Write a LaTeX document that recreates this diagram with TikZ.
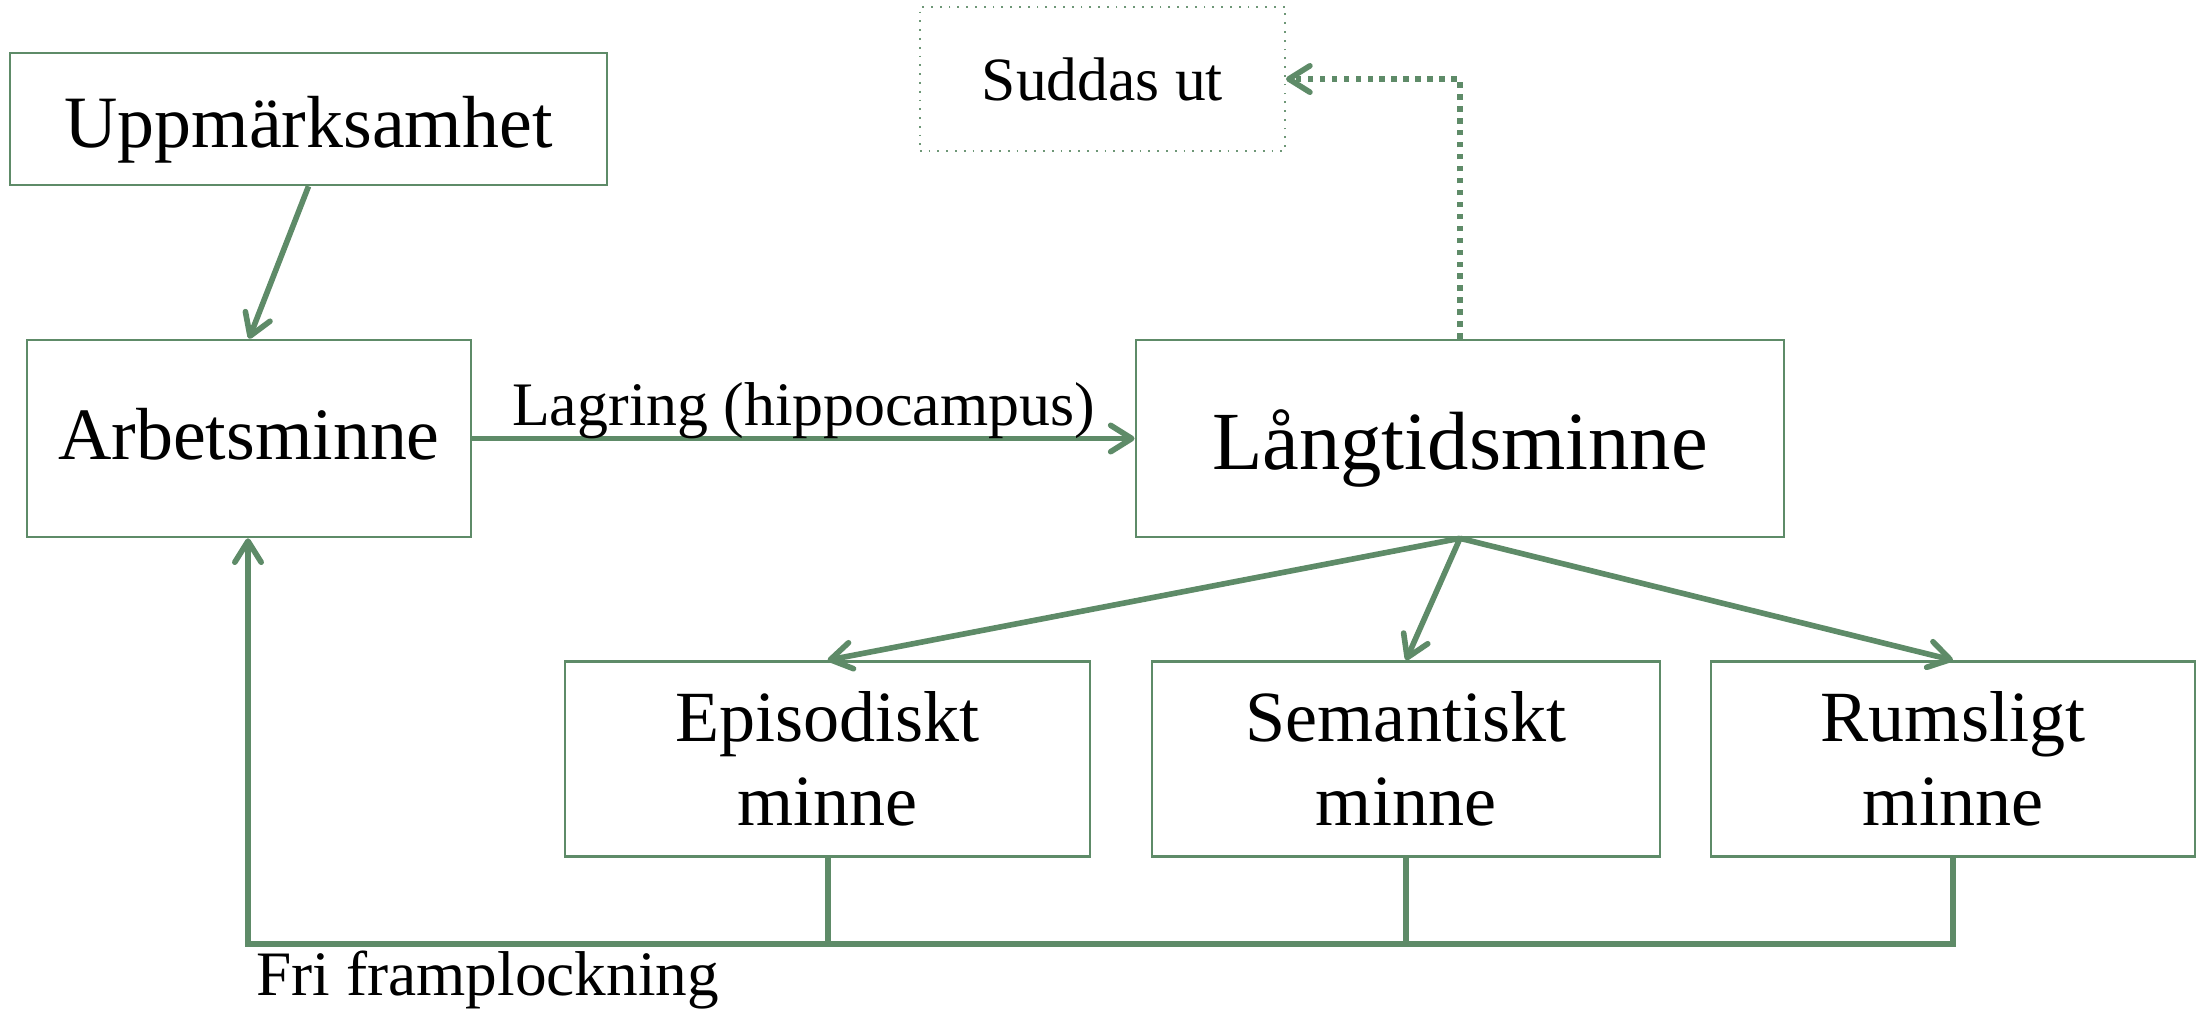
\documentclass[tikz,border=0pt]{standalone}
\usepackage{fontspec}
\setmainfont{Liberation Serif}
\usetikzlibrary{arrows.meta}
\definecolor{gr}{HTML}{5E8B68}
\tikzset{
  box/.style={draw=gr, line width=0.7pt, rectangle, inner sep=0pt, align=center},
  tip/.style={-{Straight Barb[length=6pt,width=7.5pt,line cap=round,line join=round,line width=1.6pt]}},
  arr/.style={draw=gr, line width=1.6pt, tip},
  dotarr/.style={draw=gr, line width=1.55pt, dash pattern=on 1.55pt off 1.85pt, tip},
  conn/.style={draw=gr, line width=1.7pt},
}
\begin{document}
\begin{tikzpicture}[x=0.01cm,y=-0.01cm]
\useasboundingbox (0,0) rectangle (2197,1014);
\node[box, minimum width=5.97cm, minimum height=1.32cm, font=\fontsize{21}{25}\selectfont, text height=20.6pt, text depth=4.6pt] (upp) at (308.5,119) {Uppmärksamhet};
\node[box, minimum width=4.44cm, minimum height=1.97cm, font=\fontsize{21}{25}\selectfont, text height=16.5pt, text depth=4.6pt] (arb) at (249,438.5) {Arbetsminne};
\node[box, draw=gr!90, line width=0.5pt, dotted, minimum width=3.65cm, minimum height=1.44cm, font=\fontsize{17.5}{21}\selectfont] (sud) at (1102.5,79) {Suddas ut};
\node[box, minimum width=6.48cm, minimum height=1.97cm, font=\fontsize{23.5}{28}\selectfont, text height=23pt, text depth=5.2pt] (lang) at (1460,438.5) {Långtidsminne};
\node[box, minimum width=5.25cm, minimum height=1.95cm, font=\fontsize{20.5}{24}\selectfont, yshift=-1pt] (epi) at (827.5,755.5) {Episodiskt\\minne};
\node[box, minimum width=5.08cm, minimum height=1.95cm, font=\fontsize{20.5}{24}\selectfont, yshift=-1pt] (sem) at (1406,755.5) {Semantiskt\\minne};
\node[box, minimum width=4.84cm, minimum height=1.95cm, font=\fontsize{20.5}{24}\selectfont, yshift=-1pt] (rum) at (1953,755.5) {Rumsligt\\minne};

\draw[arr] (upp.south) -- (arb.north);
\draw[arr] (arb.east) -- node[midway, anchor=base, yshift=3.6pt, font=\fontsize{17.6}{21}\selectfont, text=black, inner sep=0pt] (lag) {Lagring (hippocampus)} (lang.west);
\draw[dotarr] (lang.north) |- (sud.east);
\draw[arr] (lang.south) -- (epi.north);
\draw[arr] (lang.south) -- (sem.north);
\draw[arr] (lang.south) -- (rum.north);

\coordinate (bl) at (248,944);
\draw[conn] (epi.south) -- (epi.south |- bl);
\draw[conn] (sem.south) -- (sem.south |- bl);
\draw[conn] (rum.south) -- (rum.south |- bl);
\draw[conn, line cap=rect] (rum.south |- bl) -- (bl);
\draw[arr] (bl) -- (bl |- arb.south);
\node[anchor=west, font=\fontsize{18}{22}\selectfont, inner sep=0pt] (fri) at (256,980) {Fri framplockning};
\end{tikzpicture}
\end{document}
